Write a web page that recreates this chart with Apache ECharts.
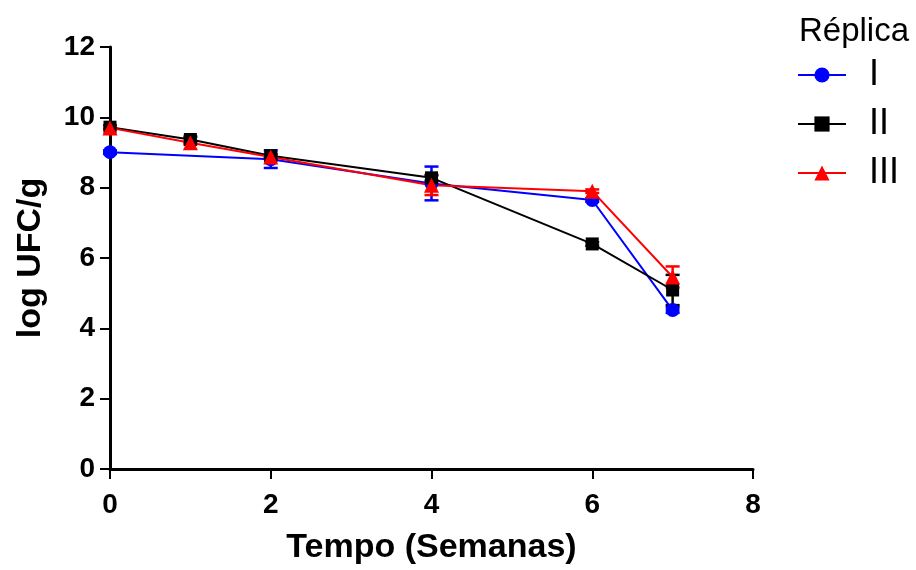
<!DOCTYPE html>
<html>
<head>
<meta charset="utf-8">
<script src="https://cdn.jsdelivr.net/npm/echarts@6/dist/echarts.min.js"></script>
<style>
  html, body { margin: 0; padding: 0; background: #fff; }
  #main { width: 916px; height: 570px; }
</style>
</head>
<body>
<div id="main"></div>
<script>
// semanas
const weeksI = [0, 2, 4, 6, 7];
const weeksII = [0, 1, 2, 4, 6, 7];
const weeksIII = [0, 1, 2, 4, 6, 7];

// log UFC/g
const valI = [9.01, 8.81, 8.12, 7.65, 4.52];
const valII = [9.72, 9.37, 8.91, 8.28, 6.40, 5.09];
const valIII = [9.70, 9.28, 8.87, 8.07, 7.90, 5.46];

// desvio
const errI = [0.05, 0.25, 0.48, 0.05, 0.08];
const errII = [0.05, 0.08, 0.05, 0.08, 0.05, 0.43];
const errIII = [0.05, 0.05, 0.05, 0.28, 0.05, 0.30];

const xTicks = [0, 2, 4, 6, 8];
const yTicks = [0, 2, 4, 6, 8, 10, 12];

function pts(xs, ys) {
  return xs.map((x, i) => [x, ys[i]]);
}
function bars(xs, ys, es) {
  return xs.map((x, i) => [x, ys[i] - es[i], ys[i] + es[i]]);
}

function errorSeries(name, color, data) {
  return {
    name: name + ' err',
    type: 'custom',
    data: data,
    z: 1,
    renderItem: function (params, api) {
      const x = api.value(0);
      const lo = api.coord([x, api.value(1)]);
      const hi = api.coord([x, api.value(2)]);
      const w = 7;
      const st = { stroke: color, lineWidth: 2.5 };
      return {
        type: 'group',
        children: [
          { type: 'line', shape: { x1: lo[0], y1: lo[1], x2: hi[0], y2: hi[1] }, style: st },
          { type: 'line', shape: { x1: lo[0] - w, y1: lo[1], x2: lo[0] + w, y2: lo[1] }, style: st },
          { type: 'line', shape: { x1: hi[0] - w, y1: hi[1], x2: hi[0] + w, y2: hi[1] }, style: st }
        ]
      };
    },
    encode: { x: 0, y: [1, 2] },
    silent: true
  };
}

function lineSeries(name, color, symbol, size, data) {
  return {
    name: name,
    type: 'line',
    data: data,
    symbol: symbol,
    symbolSize: size,
    showSymbol: true,
    z: 3,
    lineStyle: { color: color, width: 2 },
    itemStyle: { color: color },
    animation: false
  };
}

const chart = echarts.init(document.getElementById('main'));
chart.setOption({
  backgroundColor: '#ffffff',
  animation: false,
  title: {
    text: 'Réplica',
    left: 794,
    top: 10,
    textStyle: { fontFamily: 'Liberation Sans', fontSize: 33, fontWeight: 'normal', color: '#000' }
  },
  legend: {
    data: ['I', 'II', 'III'],
    orient: 'vertical',
    left: 797,
    top: 57,
    padding: 0,
    itemWidth: 48,
    itemHeight: 19,
    itemGap: 13,
    textStyle: { fontFamily: 'Liberation Sans', fontSize: 36, lineHeight: 36, color: '#000', padding: [0, 0, 0, 18] }
  },
  grid: { left: 110, right: 163, top: 47, bottom: 100 },
  xAxis: {
    type: 'value',
    min: 0,
    max: 8,
    interval: 2,
    name: 'Tempo (Semanas)',
    nameLocation: 'middle',
    nameGap: 62,
    nameTextStyle: { fontFamily: 'Liberation Sans', fontSize: 34, fontWeight: 'bold', color: '#000' },
    axisLine: { show: true, lineStyle: { color: '#000', width: 3 } },
    axisTick: { show: true, length: 10, lineStyle: { color: '#000', width: 2 } },
    axisLabel: {
      margin: 22,
      fontFamily: 'Liberation Sans', fontSize: 28, fontWeight: 'bold', color: '#000',
      formatter: v => xTicks.includes(v) ? String(v) : ''
    },
    splitLine: { show: false }
  },
  yAxis: {
    type: 'value',
    min: 0,
    max: 12,
    interval: 2,
    name: 'log UFC/g',
    nameLocation: 'middle',
    nameGap: 62,
    nameTextStyle: { fontFamily: 'Liberation Sans', fontSize: 34, fontWeight: 'bold', color: '#000' },
    axisLine: { show: true, lineStyle: { color: '#000', width: 3 } },
    axisTick: { show: true, length: 10, lineStyle: { color: '#000', width: 2 } },
    axisLabel: {
      margin: 15,
      fontFamily: 'Liberation Sans', fontSize: 28, fontWeight: 'bold', color: '#000',
      formatter: v => yTicks.includes(v) ? String(v) : ''
    },
    splitLine: { show: false }
  },
  series: [
    errorSeries('I', '#0000ff', bars(weeksI, valI, errI)),
    errorSeries('II', '#000000', bars(weeksII, valII, errII)),
    errorSeries('III', '#ff0000', bars(weeksIII, valIII, errIII)),
    lineSeries('I', '#0000ff', 'circle', 14, pts(weeksI, valI)),
    lineSeries('II', '#000000', 'rect', 13, pts(weeksII, valII)),
    lineSeries('III', '#ff0000', 'triangle', 15, pts(weeksIII, valIII))
  ]
});
</script>
</body>
</html>
